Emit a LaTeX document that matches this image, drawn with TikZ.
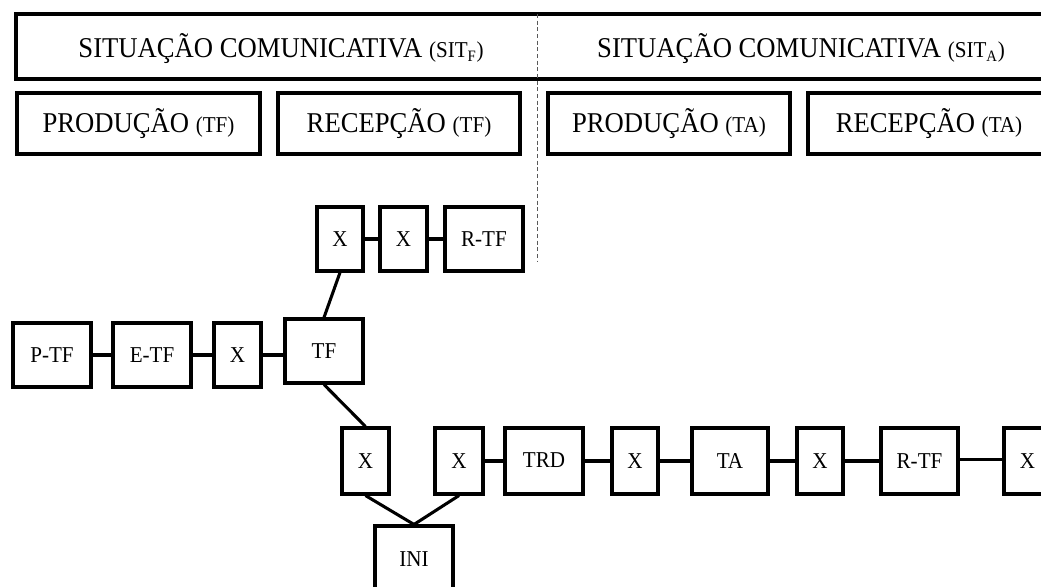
\documentclass[tikz,border=0pt]{standalone}
\usepackage{fontspec}
\setmainfont{Liberation Serif}
\newfontfamily\headfont[FakeStretch=0.93]{Liberation Serif}
\begin{document}
\begin{tikzpicture}[x=0.75pt,y=-0.75pt,
  frame/.style={draw=black,line width=2.3pt,inner sep=0pt,align=center},
  headtext/.style={font=\headfont\fontsize{21.5}{25}\selectfont},
  big/.style={frame,headtext},
  cell/.style={frame,font=\headfont\fontsize{17}{20}\selectfont,minimum height=#1*0.75pt},
  wd/.style={minimum width=#1*0.75pt},
  link/.style={line width=2.3pt},
  divider/.style={draw=black!65,line width=0.7pt,dash pattern=on 3pt off 2pt}]
\useasboundingbox (0,0) rectangle (1041,586);
\clip (0,0) rectangle (1041,586);
\newcommand{\sm}[1]{{\fontsize{17}{20}\selectfont #1}}

% communicative situations
\node[big,minimum width=1044*0.75pt,minimum height=65*0.75pt] (sit) at (538,46.5) {};
\node[headtext] (sitf) at (281,49) {SITUAÇÃO COMUNICATIVA \sm{(SIT\textsubscript{F})}};
\node[headtext] (sita) at (801,49) {SITUAÇÃO COMUNICATIVA \sm{(SIT\textsubscript{A})}};

% production / reception
\node[big,minimum width=243*0.75pt,minimum height=61*0.75pt] (ptf) at (138.5,123.5) {\raisebox{-1.5pt}{PRODUÇÃO \sm{(TF)}}};
\node[big,minimum width=242*0.75pt,minimum height=61*0.75pt] (rtf) at (399,123.5) {\raisebox{-1.5pt}{RECEPÇÃO \sm{(TF)}}};
\node[big,minimum width=242*0.75pt,minimum height=61*0.75pt] (pta) at (669,123.5) {\raisebox{-1.5pt}{PRODUÇÃO \sm{(TA)}}};
\node[big,minimum width=242*0.75pt,minimum height=61*0.75pt] (rta) at (929,123.5) {\raisebox{-1.5pt}{RECEPÇÃO \sm{(TA)}}};

% divider between the two situations
\coordinate (d1) at (537,14);
\coordinate (d2) at (537,262);
\draw[divider] (d1) -- (d2);

% upper branch
\node[cell=64,wd=46] (ux1) at (340,239) {X};
\node[cell=64,wd=47] (ux2) at (403.5,239) {X};
\node[cell=64,wd=78] (urtf) at (484,239) {R-TF};

% source text chain
\node[cell=64,wd=78] (ptfb) at (52,355) {P-TF};
\node[cell=64,wd=78] (etf) at (152,355) {E-TF};
\node[cell=64,wd=47] (bx) at (237.5,355) {X};
\node[cell=64,wd=78] (tf) at (324,351) {TF};

% translation chain
\node[cell=66,wd=47] (cx1) at (365.5,461) {X};
\node[cell=66,wd=48] (cx2) at (459,461) {X};
\node[cell=66,wd=78] (trd) at (544,461) {\raisebox{2pt}{TRD}};
\node[cell=66,wd=46] (cx3) at (635,461) {X};
\node[cell=66,wd=76] (ta) at (730,461) {TA};
\node[cell=66,wd=46] (cx4) at (820,461) {X};
\node[cell=66,wd=77] (rtf2) at (919.5,461) {R-TF};
\node[cell=66,wd=47] (cx5) at (1027.5,461) {X};
\node[cell=66,wd=78] (ini) at (414,559) {INI};

% connectors
\draw[link] (ux1) -- (ux2);
\draw[link] (ux2) -- (urtf);
\draw[link] (ux1.south) -- (tf.north);
\draw[link] (ptfb) -- (etf);
\draw[link] (etf) -- (bx);
\draw[link] (bx) -- (tf.west |- bx.east);
\draw[link] (tf.south) -- (cx1.north);
\draw[link] (cx1.south) -- (ini.north);
\draw[link] (cx2.south) -- (ini.north);
\draw[link] (cx2) -- (trd);
\draw[link] (trd) -- (cx3);
\draw[link] (cx3) -- (ta);
\draw[link] (ta) -- (cx4);
\draw[link] (cx4) -- (rtf2);
\draw[link] ([yshift=1pt]rtf2.east) -- ([yshift=1pt]cx5.west);
\end{tikzpicture}
\end{document}
